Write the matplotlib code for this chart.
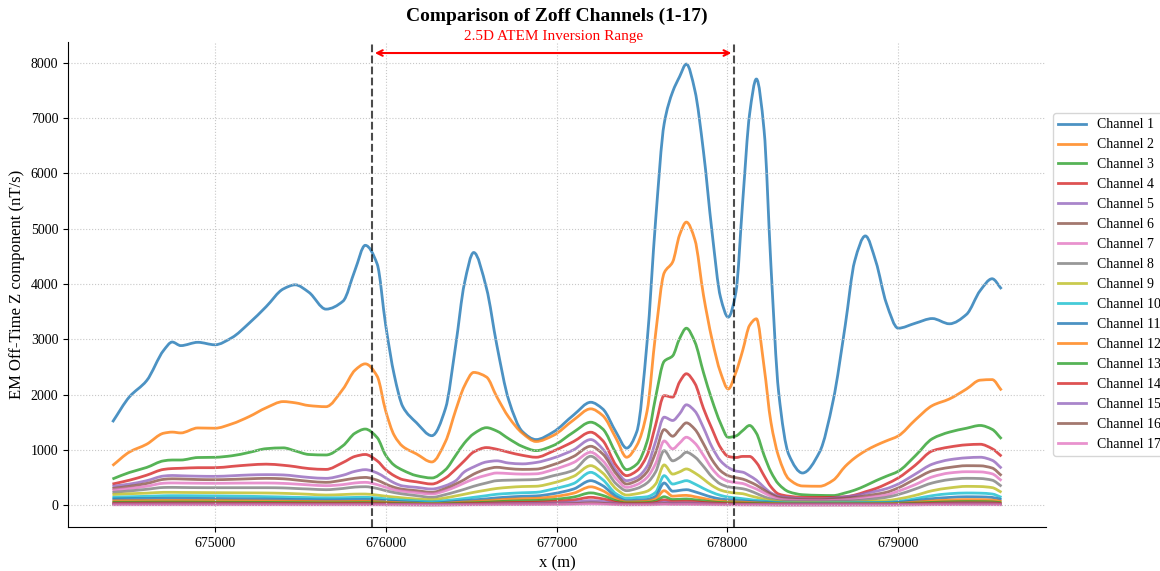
import matplotlib
matplotlib.use("Agg")
import numpy as np
import matplotlib.pyplot as plt
from matplotlib.path import Path
from matplotlib.patches import PathPatch
from matplotlib.lines import Line2D
from matplotlib.ticker import MultipleLocator

plt.rcParams['font.family'] = ['Liberation Serif', 'DejaVu Serif']

# Survey line positions (m)
x_pos = [
    674400, 674500, 674600, 674700, 674750, 674800, 674900, 675000, 675100, 675200, 675300, 675400, 675470, 675550, 675650,
    675750, 675820, 675880, 675950, 676000, 676050, 676100, 676180, 676270, 676350, 676410, 676460, 676515, 676590, 676650,
    676720, 676800, 676880, 676980, 677100, 677200, 677270, 677350, 677410, 677470, 677530, 677580, 677630, 677680, 677720,
    677760, 677810, 677860, 677910, 677960, 678005, 678050, 678090, 678130, 678170, 678215, 678255, 678300, 678360, 678440,
    678540, 678620, 678690, 678745, 678808, 678870, 678930, 679000, 679100, 679200, 679300, 679400, 679480, 679550, 679605,
]

# Off-time Z response per channel (nT/s)
ch1 = [
    1500, 1960, 2250, 2800, 2950, 2885, 2945, 2900, 3030, 3290, 3590, 3910, 3985, 3850, 3545,
    3690, 4250, 4700, 4360, 3250, 2350, 1780, 1490, 1255, 1750, 2900, 4000, 4570, 3920, 2900,
    1900, 1330, 1185, 1320, 1630, 1860, 1740, 1310, 1030, 1330, 2950, 5150, 6900, 7480, 7750,
    7980, 7500, 6400, 4950, 3760, 3400, 3850, 5500, 7070, 7710, 6780, 4340, 2050, 910, 580,
    960, 1900, 3250, 4410, 4870, 4400, 3660, 3200, 3290, 3375, 3280, 3450, 3880, 4095, 3910,
]
ch2 = [
    713, 960, 1100, 1300, 1320, 1305, 1395, 1390, 1470, 1600, 1760, 1872, 1850, 1800, 1780,
    2100, 2440, 2555, 2330, 1700, 1260, 1060, 925, 780, 1150, 1720, 2150, 2400, 2316, 1960,
    1590, 1300, 1150, 1258, 1540, 1741, 1620, 1197, 865, 1080, 1700, 3100, 4200, 4400, 4885,
    5120, 4800, 3800, 3000, 2400, 2100, 2400, 2800, 3250, 3370, 2500, 1500, 880, 470, 345,
    340, 450, 700, 850, 980, 1080, 1160, 1250, 1540, 1800, 1920, 2100, 2260, 2270, 2074,
]
ch3 = [
    471, 590, 680, 800, 815, 815, 860, 864, 892, 952, 1020, 1035, 980, 915, 906,
    1075, 1300, 1375, 1220, 900, 720, 630, 532, 490, 640, 900, 1120, 1290, 1400, 1340,
    1200, 1060, 985, 1076, 1320, 1499, 1378, 925, 641, 740, 1150, 1950, 2600, 2700, 3011,
    3200, 2950, 2400, 1900, 1480, 1225, 1250, 1348, 1440, 1300, 900, 600, 380, 240, 187,
    175, 172, 220, 270, 350, 441, 520, 610, 890, 1200, 1320, 1390, 1440, 1370, 1197,
]
ch4 = [
    380, 450, 540, 645, 660, 665, 676, 676, 700, 725, 740, 720, 695, 660, 645,
    770, 880, 915, 800, 640, 530, 460, 420, 381, 490, 650, 800, 960, 1040, 1010,
    955, 900, 865, 975, 1150, 1318, 1167, 713, 532, 620, 900, 1450, 1980, 1953, 2225,
    2376, 2200, 1750, 1380, 1040, 880, 860, 880, 880, 770, 530, 330, 200, 160, 139,
    138, 139, 150, 180, 240, 300, 380, 490, 720, 980, 1050, 1090, 1100, 1020, 883,
]
ch5 = [
    340, 380, 440, 525, 535, 530, 522, 519, 530, 544, 550, 545, 525, 500, 483,
    540, 610, 640, 580, 490, 400, 345, 320, 290, 350, 440, 600, 690, 780, 800,
    760, 745, 770, 850, 1000, 1185, 1016, 623, 441, 500, 700, 1150, 1590, 1530, 1650,
    1814, 1700, 1400, 1050, 800, 680, 615, 595, 530, 450, 320, 220, 160, 135, 115,
    109, 125, 150, 169, 210, 250, 295, 380, 560, 740, 820, 855, 865, 810, 665,
]
ch6 = [
    300, 340, 390, 465, 475, 472, 462, 459, 465, 475, 483, 475, 455, 430, 411,
    450, 485, 500, 450, 380, 320, 285, 260, 230, 300, 380, 460, 560, 650, 683,
    660, 645, 650, 730, 880, 1064, 925, 562, 381, 440, 600, 950, 1366, 1245, 1370,
    1487, 1370, 1110, 820, 620, 530, 495, 470, 420, 360, 270, 200, 140, 115, 100,
    97, 110, 125, 139, 165, 195, 230, 310, 470, 620, 680, 712, 710, 670, 532,
]
ch7 = [
    270, 300, 340, 395, 400, 398, 395, 393, 396, 398, 399, 392, 380, 365, 350,
    370, 400, 411, 370, 320, 275, 250, 225, 200, 260, 330, 400, 470, 540, 580,
    570, 560, 565, 640, 770, 955, 804, 472, 320, 370, 500, 750, 1160, 1016, 1120,
    1227, 1120, 900, 660, 500, 430, 405, 390, 340, 290, 220, 160, 110, 90, 82,
    79, 85, 95, 109, 130, 155, 181, 250, 370, 510, 580, 603, 600, 565, 441,
]
ch8 = [
    230, 255, 285, 318, 320, 318, 315, 314, 314, 314, 314, 310, 300, 290, 278,
    300, 325, 332, 300, 260, 225, 200, 170, 139, 190, 240, 285, 340, 400, 441,
    450, 455, 462, 530, 630, 883, 713, 381, 260, 300, 400, 600, 985, 800, 860,
    955, 870, 700, 510, 380, 330, 310, 295, 260, 210, 150, 110, 80, 66, 62,
    60, 65, 72, 79, 95, 115, 139, 190, 290, 400, 460, 484, 480, 450, 339,
]
ch9 = [
    190, 205, 215, 230, 230, 228, 226, 224, 222, 220, 218, 212, 205, 195, 181,
    190, 198, 199, 180, 160, 145, 130, 110, 97, 130, 165, 195, 230, 270, 300,
    320, 335, 340, 400, 520, 713, 580, 290, 181, 205, 250, 380, 726, 560, 600,
    653, 580, 470, 352, 270, 235, 215, 205, 170, 140, 105, 80, 60, 48, 46,
    46, 47, 48, 50, 60, 70, 80, 110, 175, 260, 310, 338, 335, 315, 230,
]
ch10 = [
    140, 150, 158, 168, 170, 170, 168, 166, 162, 158, 152, 146, 140, 135, 130,
    133, 138, 140, 128, 112, 100, 90, 75, 60, 80, 100, 118, 140, 170, 195,
    210, 222, 230, 290, 390, 592, 460, 200, 121, 135, 150, 230, 532, 380, 410,
    441, 380, 300, 230, 175, 145, 130, 115, 100, 85, 72, 58, 46, 40, 36,
    38, 40, 42, 44, 46, 47, 49, 65, 115, 170, 205, 218, 215, 200, 139,
]
ch11 = [
    110, 115, 118, 122, 122, 121, 120, 118, 115, 112, 108, 104, 100, 96, 92,
    94, 98, 100, 90, 78, 68, 60, 48, 36, 50, 65, 78, 92, 112, 130,
    145, 158, 165, 205, 290, 441, 351, 150, 79, 88, 100, 160, 399, 250, 265,
    278, 240, 190, 142, 110, 95, 85, 75, 66, 58, 50, 42, 35, 30, 28,
    28, 29, 30, 31, 33, 35, 37, 48, 80, 115, 138, 150, 148, 138, 98,
]
ch12 = [
    75, 78, 80, 82, 82, 82, 81, 80, 78, 76, 73, 70, 68, 65, 62,
    63, 66, 67, 61, 53, 46, 40, 33, 25, 34, 44, 53, 63, 78, 92,
    105, 115, 122, 150, 215, 330, 260, 110, 55, 60, 70, 110, 260, 160, 170,
    175, 150, 120, 90, 72, 62, 56, 50, 45, 40, 35, 30, 25, 22, 20,
    20, 21, 22, 22, 23, 24, 25, 32, 52, 75, 90, 98, 97, 90, 64,
]
ch13 = [
    50, 52, 54, 55, 55, 55, 54, 53, 52, 50, 48, 46, 45, 43, 41,
    42, 44, 45, 41, 36, 31, 27, 22, 17, 22, 29, 35, 42, 52, 61,
    70, 77, 82, 100, 145, 220, 175, 75, 37, 40, 46, 72, 150, 100, 105,
    110, 95, 76, 58, 47, 41, 37, 33, 30, 27, 23, 20, 17, 15, 14,
    14, 14, 15, 15, 16, 16, 17, 21, 34, 49, 58, 63, 62, 58, 42,
]
ch14 = [
    32, 33, 34, 35, 35, 35, 34, 34, 33, 32, 31, 29, 28, 27, 26,
    27, 28, 28, 26, 23, 20, 17, 14, 11, 14, 18, 22, 27, 33, 39,
    45, 49, 52, 64, 92, 140, 112, 48, 24, 26, 30, 46, 92, 62, 65,
    68, 60, 48, 37, 30, 26, 23, 21, 19, 17, 15, 13, 11, 10, 9,
    9, 9, 9, 10, 10, 10, 11, 13, 21, 31, 37, 40, 39, 37, 27,
]
ch15 = [
    18, 19, 19, 20, 20, 20, 20, 19, 19, 18, 18, 17, 16, 16, 15,
    15, 16, 16, 15, 13, 11, 10, 8, 6, 8, 10, 13, 15, 19, 22,
    25, 28, 30, 36, 52, 80, 64, 27, 14, 15, 17, 26, 52, 35, 37,
    39, 34, 27, 21, 17, 15, 13, 12, 11, 10, 9, 7, 6, 6, 5,
    5, 5, 5, 6, 6, 6, 6, 8, 12, 18, 21, 23, 22, 21, 15,
]
ch16 = [
    9, 10, 10, 10, 10, 10, 10, 10, 10, 9, 9, 9, 8, 8, 8,
    8, 8, 8, 8, 7, 6, 5, 4, 3, 4, 5, 7, 8, 10, 11,
    13, 14, 15, 18, 26, 40, 32, 14, 7, 8, 9, 13, 26, 18, 19,
    20, 17, 14, 11, 9, 8, 7, 6, 6, 5, 5, 4, 3, 3, 3,
    3, 3, 3, 3, 3, 3, 3, 4, 6, 9, 11, 12, 11, 11, 8,
]
ch17 = [
    5, 5, 5, 5, 5, 5, 5, 5, 5, 5, 5, 5, 4, 4, 4,
    4, 4, 4, 4, 4, 3, 3, 2, 2, 2, 3, 4, 4, 5, 6,
    7, 7, 8, 9, 13, 20, 16, 7, 4, 4, 5, 7, 13, 9, 10,
    10, 9, 7, 6, 5, 4, 4, 3, 3, 3, 3, 2, 2, 2, 2,
    2, 2, 2, 2, 2, 2, 2, 2, 3, 5, 6, 6, 6, 6, 4,
]

channels = [ch1, ch2, ch3, ch4, ch5, ch6, ch7, ch8, ch9, ch10,
            ch11, ch12, ch13, ch14, ch15, ch16, ch17]
channel_labels = [f"Channel {i}" for i in range(1, 18)]

# Bounds of the 2.5D inversion section
inv_start = 675920
inv_end = 678040
range_label = "2.5D ATEM Inversion Range"


def smooth_line_path(xs, ys):
    """Cubic Bezier path through every reading (monotone Hermite tangents)."""
    xs = np.asarray(xs, dtype=float)
    ys = np.asarray(ys, dtype=float)
    h = np.diff(xs)
    d = np.diff(ys) / h
    m = np.zeros_like(ys)
    m[0], m[-1] = d[0], d[-1]
    for k in range(1, len(ys) - 1):
        if d[k - 1] * d[k] > 0:
            w1 = 2 * h[k] + h[k - 1]
            w2 = h[k] + 2 * h[k - 1]
            m[k] = (w1 + w2) / (w1 / d[k - 1] + w2 / d[k])
    verts = [(xs[0], ys[0])]
    codes = [Path.MOVETO]
    for i in range(len(xs) - 1):
        step = h[i] / 3.0
        verts += [(xs[i] + step, ys[i] + m[i] * step),
                  (xs[i + 1] - step, ys[i + 1] - m[i + 1] * step),
                  (xs[i + 1], ys[i + 1])]
        codes += [Path.CURVE4] * 3
    return Path(verts, codes)


fig = plt.figure(figsize=(11.6, 5.71), dpi=100)
ax = fig.add_axes([0.0586, 0.0771, 0.8431, 0.8493])

palette = plt.get_cmap("tab10").colors
handles = []
for i, (vals, lab) in enumerate(zip(channels, channel_labels)):
    col = palette[i % 10]
    patch = PathPatch(smooth_line_path(x_pos, vals), facecolor="none",
                      edgecolor=col, lw=2.0, alpha=0.8,
                      joinstyle="round", capstyle="butt")
    ax.add_patch(patch)
    handles.append(Line2D([], [], color=col, lw=2.0, alpha=0.8, label=lab))
ax.autoscale_view()

ax.axvline(inv_start, color="black", ls="--", lw=1.5, alpha=0.7)
ax.axvline(inv_end, color="black", ls="--", lw=1.5, alpha=0.7)

arrow_y = 8180
ax.annotate("", xy=(inv_start, arrow_y), xytext=(inv_end, arrow_y),
            arrowprops=dict(arrowstyle="<->", color="red", lw=1.5))
ax.text((inv_start + inv_end) / 2, 8470, range_label, color="red",
        fontsize=11, ha="center", va="center", clip_on=False)

ax.set_title("Comparison of Zoff Channels (1-17)", fontsize=14,
             fontweight="bold", pad=15)
ax.set_xlabel("x (m)", fontsize=12)
ax.set_ylabel("EM Off-Time Z component (nT/s)", fontsize=12)

ax.yaxis.set_major_locator(MultipleLocator(1000))
ax.xaxis.set_major_locator(MultipleLocator(1000))
ax.ticklabel_format(axis="x", useOffset=False, style="plain")
ax.tick_params(labelsize=10)

ax.grid(True, linestyle=":", color="#c8c8c8", linewidth=0.8)
ax.spines["top"].set_visible(False)
ax.spines["right"].set_visible(False)

ax.legend(handles=handles, loc="center left", bbox_to_anchor=(1.0, 0.5),
          fontsize=10, frameon=True)

fig.savefig("out.png", dpi=100)
